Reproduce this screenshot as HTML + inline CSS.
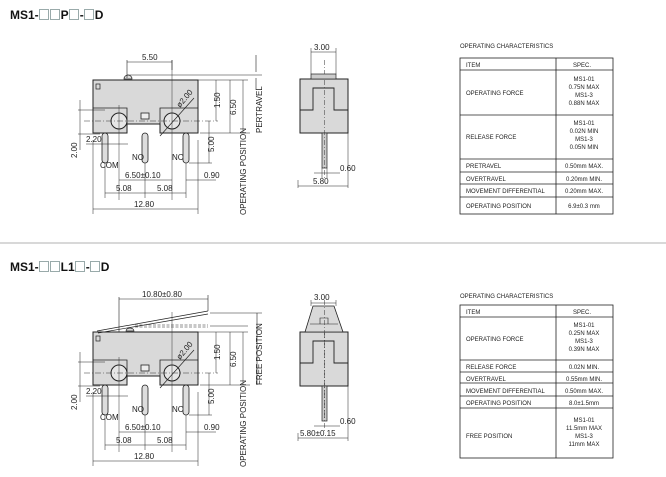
<!DOCTYPE html>
<html><head><meta charset="utf-8">
<style>
html,body{margin:0;padding:0;background:#fff;}
svg{display:block;font-family:"Liberation Sans",sans-serif;}
.t{font-size:8px;fill:#222;}
.s{font-size:6px;fill:#222;}
.hd{position:absolute;left:10px;font:bold 12px "Liberation Sans",sans-serif;color:#111;white-space:nowrap;}
.hd i{display:inline-block;width:8px;height:9px;border:1px solid #9aa;margin:0 0.5px;vertical-align:-1px;}
</style></head><body>
<div class="hd" style="top:8px">MS1-<i></i><i></i>P<i></i>-<i></i>D</div>
<div class="hd" style="top:260px">MS1-<i></i><i></i>L1<i></i>-<i></i>D</div>
<svg width="666" height="477" viewBox="0 0 666 477" xmlns="http://www.w3.org/2000/svg">
<defs>
<g id="front">
  <path d="M93,80 H198 V133 H160 V124 H127 V133 H93 Z" fill="#d9d9d9" stroke="#222" stroke-width="1"/>
  <path d="M93,108 H127 V124 M160,124 V108 H198" fill="none" stroke="#222" stroke-width="0.8"/>
  <rect x="96" y="84" width="4" height="5" fill="none" stroke="#222" stroke-width="0.7"/>
  <circle cx="119" cy="121" r="8" fill="#e6e6e6" stroke="#222"/>
  <circle cx="172" cy="121" r="8" fill="#e6e6e6" stroke="#222"/>
  <rect x="141" y="113" width="8" height="6" fill="#eee" stroke="#222" stroke-width="0.8"/>
  <rect x="102" y="133" width="6" height="30" rx="3" fill="#ddd" stroke="#222" stroke-width="0.8"/>
  <rect x="142" y="133" width="6" height="30" rx="3" fill="#ddd" stroke="#222" stroke-width="0.8"/>
  <rect x="183" y="133" width="6" height="30" rx="3" fill="#ddd" stroke="#222" stroke-width="0.8"/>
  <path d="M84,121 H218" stroke="#333" stroke-width="0.6" stroke-dasharray="6,2,1,2"/>
  <path d="M119,105 V200 M172,60 V200" stroke="#333" stroke-width="0.5"/>
  <path d="M160,136 L194,98" stroke="#222" stroke-width="0.7"/>
  <text class="t" transform="translate(180,108) rotate(-50)">ø2.00</text>
  <path d="M80,100 V150 M78,110 H105 M78,134 H100" stroke="#222" stroke-width="0.5" fill="none"/>
  <text class="t" transform="translate(77,158) rotate(-90)">2.00</text>
  <text class="t" x="86" y="142">2.20</text>
  <path d="M86,144 H128" stroke="#222" stroke-width="0.5"/>
  <text class="t" x="100" y="168">COM</text>
  <text class="t" x="132" y="160">NO</text>
  <text class="t" x="172" y="160">NC</text>
  <path d="M119,180 H172 M186,180 H216 M105,193 H186 M93,209 H198 M105,163 V198 M145,163 V198 M186,163 V198 M93,140 V214 M198,140 V214 M189,163 H212" stroke="#222" stroke-width="0.5" fill="none"/>
  <text class="t" x="125" y="178">6.50±0.10</text>
  <text class="t" x="204" y="178">0.90</text>
  <text class="t" x="116" y="191">5.08</text>
  <text class="t" x="157" y="191">5.08</text>
  <text class="t" x="134" y="207">12.80</text>
  <path d="M198,80 H248 M209,121 V163 M230,80 V133 M200,133 H250 M216,80 V121" stroke="#222" stroke-width="0.5" fill="none"/>
  <text class="t" transform="translate(220,108) rotate(-90)">1.50</text>
  <text class="t" transform="translate(236,115) rotate(-90)">6.50</text>
  <text class="t" transform="translate(214,152) rotate(-90)">5.00</text>
  <text class="t" transform="translate(246,215) rotate(-90)">OPERATING  POSITION</text>
  <path d="M243,80 V133" stroke="#222" stroke-width="0.5"/>
</g>
<g id="side">
  <rect x="300" y="79" width="48" height="54" fill="#d9d9d9" stroke="#222"/>
  <path d="M300,110 H313 V88 H334 V110 H348" fill="none" stroke="#222" stroke-width="0.9"/>
  <rect x="322" y="133" width="5" height="35" fill="#ccc" stroke="#222" stroke-width="0.7"/>
  <path d="M324.5,60 V180" stroke="#333" stroke-width="0.5" stroke-dasharray="5,2,1,2"/>
</g>
</defs>

<use href="#front"/>
<path d="M124,79 a4,4 0 0 1 8,0 Z" fill="#ddd" stroke="#222" stroke-width="0.7"/>
<path d="M127,75 H252 M127,62 H172 M127,60 V78 M172,60 V70 M248,75 H262 M256,55 V72 M256,78 V90" stroke="#222" stroke-width="0.6" fill="none"/>
<text class="t" x="142" y="60">5.50</text>
<text class="t" transform="translate(262,133) rotate(-90)">PERTRAVEL</text>

<use href="#side"/>
<rect x="311" y="74" width="25" height="5" fill="#ccc" stroke="#222" stroke-width="0.7"/>
<path d="M311,48 V74 M336,48 V74 M311,52 H336 M298,180 V188 M348,133 V188 M298,186 H348 M314,173 H340 M322,168 V178 M327,168 V178" stroke="#222" stroke-width="0.5" fill="none"/>
<text class="t" x="314" y="50">3.00</text>
<text class="t" x="340" y="171">0.60</text>
<text class="t" x="313" y="184">5.80</text>

<text class="s" x="460" y="48">OPERATING  CHARACTERISTICS</text>
<g stroke="#222" stroke-width="0.8" fill="none">
<rect x="460" y="58" width="153" height="156"/>
<path d="M556,58 V214 M460,70 H613 M460,115 H613 M460,159 H613 M460,172 H613 M460,184 H613 M460,197 H613"/>
</g>
<g class="s">
<text x="466" y="67">ITEM</text><text x="573" y="67">SPEC.</text>
<text x="466" y="95">OPERATING  FORCE</text>
<text x="584" y="81" text-anchor="middle">MS1-01</text><text x="584" y="89" text-anchor="middle">0.75N  MAX</text><text x="584" y="97" text-anchor="middle">MS1-3</text><text x="584" y="105" text-anchor="middle">0.88N  MAX</text>
<text x="466" y="139">RELEASE  FORCE</text>
<text x="584" y="125" text-anchor="middle">MS1-01</text><text x="584" y="133" text-anchor="middle">0.02N  MIN</text><text x="584" y="141" text-anchor="middle">MS1-3</text><text x="584" y="149" text-anchor="middle">0.05N  MIN</text>
<text x="466" y="168">PRETRAVEL</text><text x="584" y="168" text-anchor="middle">0.50mm  MAX.</text>
<text x="466" y="181">OVERTRAVEL</text><text x="584" y="181" text-anchor="middle">0.20mm  MIN.</text>
<text x="466" y="193">MOVEMENT  DIFFERENTIAL</text><text x="584" y="193" text-anchor="middle">0.20mm  MAX.</text>
<text x="466" y="208">OPERATING  POSITION</text><text x="584" y="208" text-anchor="middle">6.9±0.3  mm</text>
</g>

<path d="M0,243 H666" stroke="#999" stroke-width="0.8"/>

<use href="#front" transform="translate(0,252)"/>
<path d="M97,331 L208,311 M98,333 L208,314" stroke="#222" stroke-width="0.7" fill="none"/>
<path d="M126,331 a4,3 0 0 1 8,0 Z" fill="#ddd" stroke="#222" stroke-width="0.7"/>
<path d="M135,327 H208 M135,325 H208" stroke="#222" stroke-width="0.6" stroke-dasharray="3,1.5"/>
<path d="M119,297 V332 M208,295 V311 M119,299 H208 M210,313 H262 M210,326 H248 M257,313 V385" stroke="#222" stroke-width="0.6" fill="none"/>
<text class="t" x="142" y="297">10.80±0.80</text>
<text class="t" transform="translate(262,385) rotate(-90)">FREE  POSITION</text>

<use href="#side" transform="translate(0,253)"/>
<path d="M305,332 L313,306 H334 L343,332 Z" fill="#d9d9d9" stroke="#222" stroke-width="0.8"/>
<path d="M310,324 H338 M320,324 V318 H328 V324" stroke="#222" stroke-width="0.6" fill="none"/>
<path d="M324.5,300 V420" stroke="#333" stroke-width="0.5" stroke-dasharray="5,2,1,2"/>
<path d="M311,300 V306 M336,300 V306 M311,303 H336 M298,433 V441 M348,386 V441 M298,438 H348 M314,426 H340" stroke="#222" stroke-width="0.5" fill="none"/>
<text class="t" x="314" y="300">3.00</text>
<text class="t" x="340" y="424">0.60</text>
<text class="t" x="300" y="436">5.80±0.15</text>

<text class="s" x="460" y="298">OPERATING  CHARACTERISTICS</text>
<g stroke="#222" stroke-width="0.8" fill="none">
<rect x="460" y="305" width="153" height="153"/>
<path d="M556,305 V458 M460,317 H613 M460,360 H613 M460,372 H613 M460,383 H613 M460,396 H613 M460,408 H613"/>
</g>
<g class="s">
<text x="466" y="314">ITEM</text><text x="573" y="314">SPEC.</text>
<text x="466" y="341">OPERATING  FORCE</text>
<text x="584" y="327" text-anchor="middle">MS1-01</text><text x="584" y="335" text-anchor="middle">0.25N  MAX</text><text x="584" y="343" text-anchor="middle">MS1-3</text><text x="584" y="351" text-anchor="middle">0.39N  MAX</text>
<text x="466" y="369">RELEASE  FORCE</text><text x="584" y="369" text-anchor="middle">0.02N  MIN.</text>
<text x="466" y="381">OVERTRAVEL</text><text x="584" y="381" text-anchor="middle">0.55mm  MIN.</text>
<text x="466" y="393">MOVEMENT  DIFFERENTIAL</text><text x="584" y="393" text-anchor="middle">0.50mm  MAX.</text>
<text x="466" y="405">OPERATING  POSITION</text><text x="584" y="405" text-anchor="middle">8.0±1.5mm</text>
<text x="466" y="438">FREE  POSITION</text>
<text x="584" y="422" text-anchor="middle">MS1-01</text><text x="584" y="430" text-anchor="middle">11.5mm  MAX</text><text x="584" y="438" text-anchor="middle">MS1-3</text><text x="584" y="446" text-anchor="middle">11mm  MAX</text>
</g>
</svg>
</body></html>
